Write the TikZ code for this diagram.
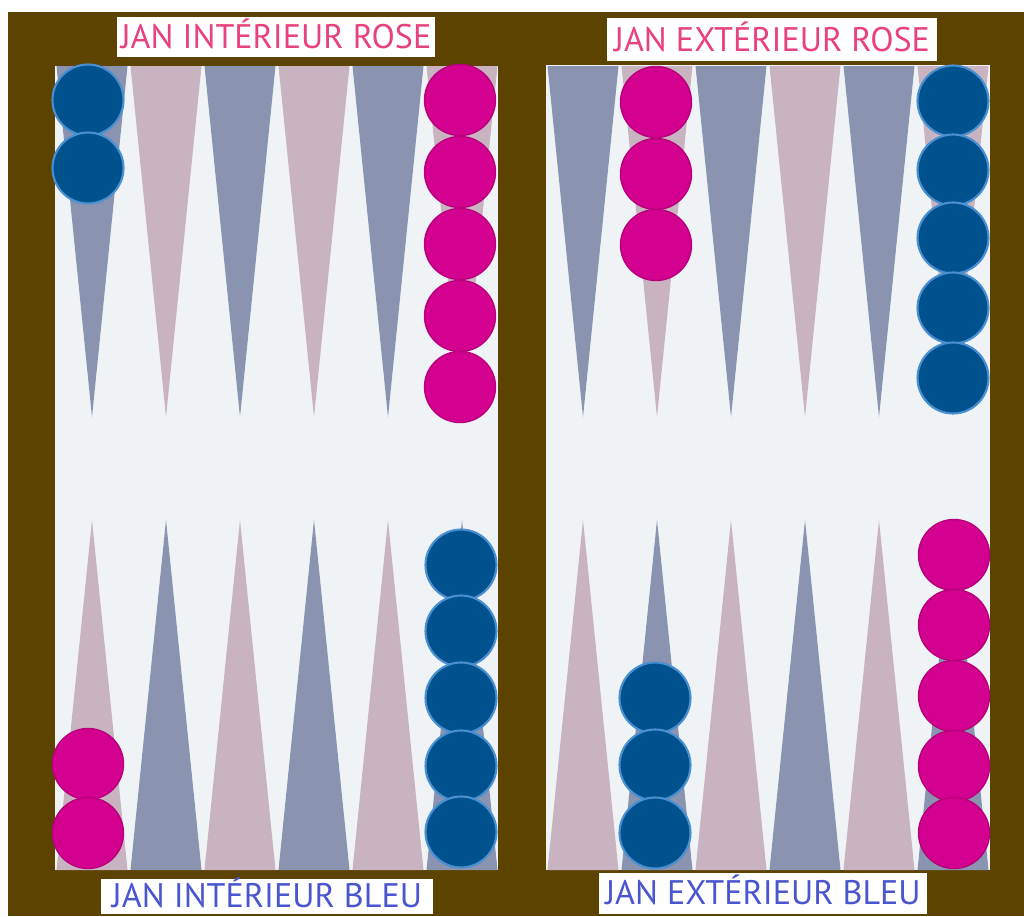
\documentclass[tikz,border=0pt]{standalone}
\usepackage{fontspec}
\setmainfont{PT Sans}
\usepackage{xcolor}
\definecolor{bois}{HTML}{5C4300}
\definecolor{fond}{HTML}{EFF3F6}
\definecolor{flecheB}{HTML}{8A93B0}
\definecolor{flecheR}{HTML}{C9B3C0}
\definecolor{pionR}{HTML}{D4008F}
\definecolor{bordR}{HTML}{B8007C}
\definecolor{pionB}{HTML}{00528F}
\definecolor{bordB}{HTML}{4A90D0}
\definecolor{texteR}{HTML}{E8417F}
\definecolor{texteB}{HTML}{4A55D0}

\begin{document}
\begin{tikzpicture}[x=0.02cm, y=-0.02cm]
        % 스타일 정의
        \tikzset{pionrose/.style={circle, fill=pionR, draw=bordR, line width=0.8pt, minimum size=1.42cm, inner sep=0pt}}
        \tikzset{pionbleu/.style={circle, fill=pionB, draw=bordB, line width=1.2pt, minimum size=1.42cm, inner sep=0pt}}
        \tikzset{etiquette/.style={fill=white, inner sep=0pt, text height=13.5pt, text depth=0pt, font=\fontsize{19.4}{19.4}\selectfont}}

        % 1. 바탕 (흰 여백 + 나무 테두리 + 두 판)
        \useasboundingbox (0,0) rectangle (1024,916);
        \fill[white] (0,0) rectangle (1024,916);
        \fill[bois] (8,12) rectangle (1024,916);
        \fill[fond] (55,66) rectangle (498,870);
        \fill[fond] (546,65) rectangle (990,870);

        % 2. 삼각형 (위: 파랑부터, 아래: 분홍부터)
        \foreach \bx in {55,546} {
            \foreach \i/\ch/\cb in {0/flecheB/flecheR, 1/flecheR/flecheB, 2/flecheB/flecheR,
                                    3/flecheR/flecheB, 4/flecheB/flecheR, 5/flecheR/flecheB} {
                \fill[\ch] (\bx+\i*74+1.5,66) -- (\bx+\i*74+72.5,66) -- (\bx+\i*74+37,417) -- cycle;
                \fill[\cb] (\bx+\i*74+1.5,870) -- (\bx+\i*74+72.5,870) -- (\bx+\i*74+37,520) -- cycle;
            }
        }

        % 3. 말 (왼쪽 판)
        \foreach \y [count=\k] in {100,168}
            \node[pionbleu] (bgh\k) at (88,\y) {};
        \foreach \y [count=\k] in {100,172,244,316,387}
            \node[pionrose] (rgh\k) at (460,\y) {};
        \foreach \y [count=\k] in {764,833}
            \node[pionrose] (rgb\k) at (88,\y) {};
        \foreach \y [count=\k] in {565,631,698,766,832}
            \node[pionbleu] (bgb\k) at (461,\y) {};

        % 4. 말 (오른쪽 판)
        \foreach \y [count=\k] in {102,174,245}
            \node[pionrose] (rdh\k) at (656,\y) {};
        \foreach \y [count=\k] in {101,170,238,308,378}
            \node[pionbleu] (bdh\k) at (953,\y) {};
        \foreach \y [count=\k] in {698,765,833}
            \node[pionbleu] (bdb\k) at (655,\y) {};
        \foreach \y [count=\k] in {555,625,696,766,833}
            \node[pionrose] (rdb\k) at (954,\y) {};

        % 5. 이름표
        \node[etiquette, text=texteR, minimum width=6.36cm, minimum height=0.82cm] (jir) at (276,37) {JAN INTÉRIEUR ROSE};
        \node[etiquette, text=texteR, minimum width=6.62cm, minimum height=0.86cm] (jer) at (772,39.5) {JAN EXTÉRIEUR ROSE};
        \node[etiquette, text=texteB, minimum width=6.66cm, minimum height=0.70cm] (jib) at (267,896) {JAN INTÉRIEUR BLEU};
        \node[etiquette, text=texteB, minimum width=6.58cm, minimum height=0.82cm] (jeb) at (763,893) {JAN EXTÉRIEUR BLEU};
    \end{tikzpicture}
\end{document}
